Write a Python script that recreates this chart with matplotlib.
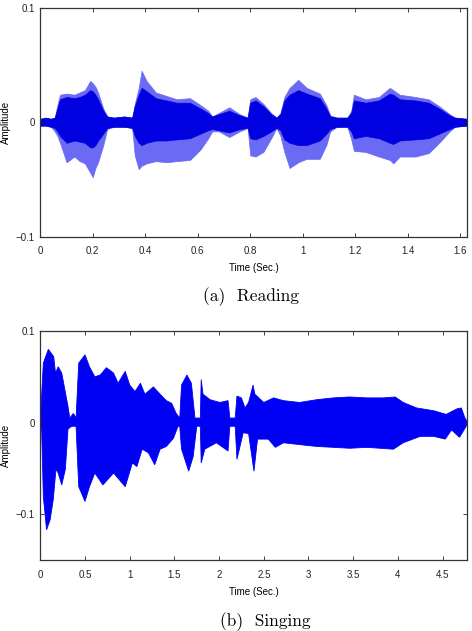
import numpy as np
import matplotlib
matplotlib.use("Agg")
import matplotlib.pyplot as plt

# (a) Reading: envelope of the waveform (outer spikes and dark core)
read_t = [0, 0.02, 0.04, 0.055, 0.065, 0.075, 0.10, 0.13, 0.15, 0.17,
          0.19, 0.20, 0.21, 0.22, 0.24, 0.255, 0.28, 0.32, 0.35, 0.36,
          0.375, 0.386, 0.405, 0.44, 0.48, 0.52, 0.57, 0.61, 0.64, 0.655,
          0.68, 0.72, 0.76, 0.79, 0.80, 0.82, 0.85, 0.88, 0.90, 0.915,
          0.93, 0.95, 0.983, 1.015, 1.065, 1.09, 1.105, 1.13, 1.17, 1.185,
          1.195, 1.24, 1.29, 1.332, 1.345, 1.37, 1.43, 1.48, 1.52, 1.56,
          1.58, 1.625]
read_hi = [0.003, 0.004, 0.003, 0.004, 0.015, 0.024, 0.025, 0.024, 0.026, 0.028,
           0.036, 0.034, 0.031, 0.026, 0.012, 0.005, 0.004, 0.005, 0.004, 0.016,
           0.030, 0.045, 0.036, 0.026, 0.023, 0.020, 0.021, 0.015, 0.010, 0.005,
           0.008, 0.013, 0.007, 0.004, 0.020, 0.022, 0.016, 0.008, 0.004, 0.008,
           0.022, 0.030, 0.037, 0.030, 0.025, 0.015, 0.006, 0.004, 0.004, 0.010,
           0.024, 0.020, 0.022, 0.030, 0.028, 0.024, 0.022, 0.020, 0.014, 0.007,
           0.004, 0.003]
read_lo = [-0.003, -0.003, -0.004, -0.008, -0.012, -0.018, -0.035, -0.030, -0.034, -0.036,
           -0.044, -0.048, -0.040, -0.035, -0.020, -0.006, -0.004, -0.004, -0.005, -0.029,
           -0.041, -0.038, -0.036, -0.034, -0.035, -0.034, -0.033, -0.024, -0.014, -0.008,
           -0.008, -0.013, -0.008, -0.005, -0.029, -0.030, -0.026, -0.014, -0.005, -0.012,
           -0.026, -0.040, -0.035, -0.032, -0.032, -0.020, -0.008, -0.004, -0.004, -0.015,
           -0.025, -0.026, -0.030, -0.033, -0.036, -0.030, -0.030, -0.027, -0.018, -0.008,
           -0.004, -0.003]
read_core_hi = [0.003, 0.004, 0.003, 0.004, 0.012, 0.020, 0.022, 0.021, 0.022, 0.024,
                0.028, 0.027, 0.024, 0.020, 0.010, 0.005, 0.004, 0.005, 0.004, 0.014,
                0.024, 0.030, 0.027, 0.021, 0.019, 0.017, 0.017, 0.012, 0.008, 0.005,
                0.007, 0.010, 0.006, 0.004, 0.017, 0.019, 0.014, 0.007, 0.004, 0.007,
                0.019, 0.024, 0.028, 0.025, 0.021, 0.012, 0.005, 0.004, 0.004, 0.008,
                0.019, 0.017, 0.019, 0.025, 0.024, 0.020, 0.019, 0.017, 0.012, 0.006,
                0.004, 0.003]
read_core_lo = [-0.003, -0.003, -0.004, -0.005, -0.008, -0.012, -0.018, -0.016, -0.017, -0.018,
                -0.022, -0.022, -0.020, -0.016, -0.010, -0.005, -0.004, -0.004, -0.005, -0.012,
                -0.018, -0.020, -0.018, -0.016, -0.016, -0.015, -0.014, -0.010, -0.007, -0.006,
                -0.007, -0.009, -0.006, -0.005, -0.014, -0.015, -0.012, -0.008, -0.005, -0.007,
                -0.015, -0.018, -0.020, -0.020, -0.016, -0.010, -0.006, -0.004, -0.004, -0.008,
                -0.014, -0.012, -0.014, -0.018, -0.019, -0.016, -0.015, -0.014, -0.010, -0.006,
                -0.004, -0.003]

# (b) Singing: upper and lower envelopes
sing_t_hi = [0, 0.034, 0.09, 0.15, 0.17, 0.2, 0.24, 0.31, 0.33, 0.37,
             0.40, 0.43, 0.5, 0.55, 0.61, 0.67, 0.74, 0.82, 0.87, 0.95,
             1.0, 1.06, 1.12, 1.17, 1.265, 1.34, 1.41, 1.47, 1.52, 1.56,
             1.58, 1.64, 1.69, 1.73, 1.79, 1.80, 1.82, 1.9, 2.01, 2.1,
             2.12, 2.18, 2.2, 2.25, 2.29, 2.33, 2.38, 2.40, 2.5, 2.61,
             2.72, 2.9, 3.09, 3.28, 3.46, 3.65, 3.84, 3.97, 4.06, 4.21,
             4.4, 4.54, 4.66, 4.71, 4.75, 4.77]
sing_hi = [0.002, 0.065, 0.080, 0.072, 0.054, 0.061, 0.054, 0.0175, 0.005, 0.010,
           0.005, 0.065, 0.074, 0.061, 0.050, 0.052, 0.060, 0.054, 0.043, 0.056,
           0.041, 0.034, 0.043, 0.031, 0.039, 0.031, 0.024, 0.021, 0.010, 0.005,
           0.041, 0.052, 0.043, 0.005, 0.005, 0.047, 0.031, 0.025, 0.022, 0.024,
           0.005, 0.005, 0.029, 0.027, 0.016, 0.022, 0.041, 0.031, 0.022, 0.027,
           0.024, 0.022, 0.025, 0.027, 0.028, 0.027, 0.027, 0.028, 0.022, 0.016,
           0.013, 0.009, 0.015, 0.016, 0.005, 0.002]
sing_t_lo = [0, 0.015, 0.034, 0.07, 0.11, 0.145, 0.175, 0.2, 0.24, 0.28,
             0.31, 0.35, 0.40, 0.43, 0.5, 0.55, 0.61, 0.7, 0.82, 0.95,
             1.03, 1.08, 1.14, 1.21, 1.28, 1.34, 1.41, 1.49, 1.54, 1.56,
             1.58, 1.66, 1.71, 1.75, 1.79, 1.80, 1.84, 1.97, 2.1, 2.12,
             2.18, 2.2, 2.27, 2.33, 2.39, 2.43, 2.55, 2.63, 2.72, 2.9,
             3.09, 3.28, 3.46, 3.65, 3.95, 4.06, 4.25, 4.4, 4.53, 4.6,
             4.69, 4.77]
sing_lo = [-0.002, -0.008, -0.081, -0.117, -0.106, -0.084, -0.051, -0.055, -0.068, -0.051,
           -0.007, -0.004, -0.004, -0.070, -0.086, -0.070, -0.055, -0.068, -0.055, -0.070,
           -0.044, -0.048, -0.029, -0.033, -0.046, -0.029, -0.026, -0.017, -0.004, -0.004,
           -0.029, -0.053, -0.037, -0.004, -0.004, -0.044, -0.029, -0.022, -0.031, -0.004,
           -0.004, -0.040, -0.011, -0.012, -0.053, -0.018, -0.018, -0.027, -0.022, -0.024,
           -0.026, -0.027, -0.028, -0.027, -0.029, -0.022, -0.015, -0.015, -0.018, -0.008,
           -0.016, -0.003]

read_xticks = [0, 0.2, 0.4, 0.6, 0.8, 1.0, 1.2, 1.4, 1.6]
read_xlabels = ["0", "0.2", "0.4", "0.6", "0.8", "1", "1.2", "1.4", "1.6"]
sing_xticks = [0, 0.5, 1, 1.5, 2, 2.5, 3, 3.5, 4, 4.5]
sing_xlabels = ["0", "0.5", "1", "1.5", "2", "2.5", "3", "3.5", "4", "4.5"]
yticks = [-0.1, 0, 0.1]
ylabels = ["\u22120.1", "0", "0.1"]

plt.rcParams['font.family'] = ['Liberation Sans', 'DejaVu Sans']
fs = 7


def style_axes(ax, xticks, xlabels):
    ax.set_xticks(xticks)
    ax.set_xticklabels(xlabels)
    ax.set_yticks(yticks)
    ax.set_yticklabels(ylabels)
    ax.tick_params(direction='in', length=3, width=0.6, labelsize=fs,
                   top=True, right=True, colors='#222222')
    ax.tick_params(axis='x', pad=7)
    ax.tick_params(axis='y', pad=4)
    for s in ax.spines.values():
        s.set_linewidth(0.9)
        s.set_color('#333333')
    ax.set_ylabel("Amplitude", fontsize=fs, labelpad=3)
    ax.set_xlabel("Time (Sec.)", fontsize=fs, labelpad=5)


fig = plt.figure(figsize=(4.72, 6.31), dpi=100)

ax1 = fig.add_axes([0.0854, 0.6249, 0.9034, 0.3629])
ax1.fill_between(read_t, read_hi, read_lo, color='#6a6af5', lw=0.5)
ax1.fill_between(read_t, read_core_hi, read_core_lo, color='#0000e0', lw=0.5)
ax1.set_xlim(0, 1.625)
ax1.set_ylim(-0.1, 0.1)
style_axes(ax1, read_xticks, read_xlabels)

ax2 = fig.add_axes([0.0854, 0.1125, 0.9034, 0.3629])
poly_x = np.concatenate([sing_t_hi, sing_t_lo[::-1]])
poly_y = np.concatenate([sing_hi, sing_lo[::-1]])
ax2.fill(poly_x, poly_y, color='#0000f5', lw=0.6)
ax2.set_xlim(0, 4.77)
ax2.set_ylim(-0.15, 0.1)
style_axes(ax2, sing_xticks, sing_xlabels)

fig.text(251.5 / 472, 1 - 296.7 / 631, "(a)  Reading", family='cmr10',
         fontsize=12.5, ha='center', va='center')
fig.text(265 / 472, 1 - 621.7 / 631, "(b)  Singing", family='cmr10',
         fontsize=12.5, ha='center', va='center')

fig.savefig("out.png", dpi=100)
